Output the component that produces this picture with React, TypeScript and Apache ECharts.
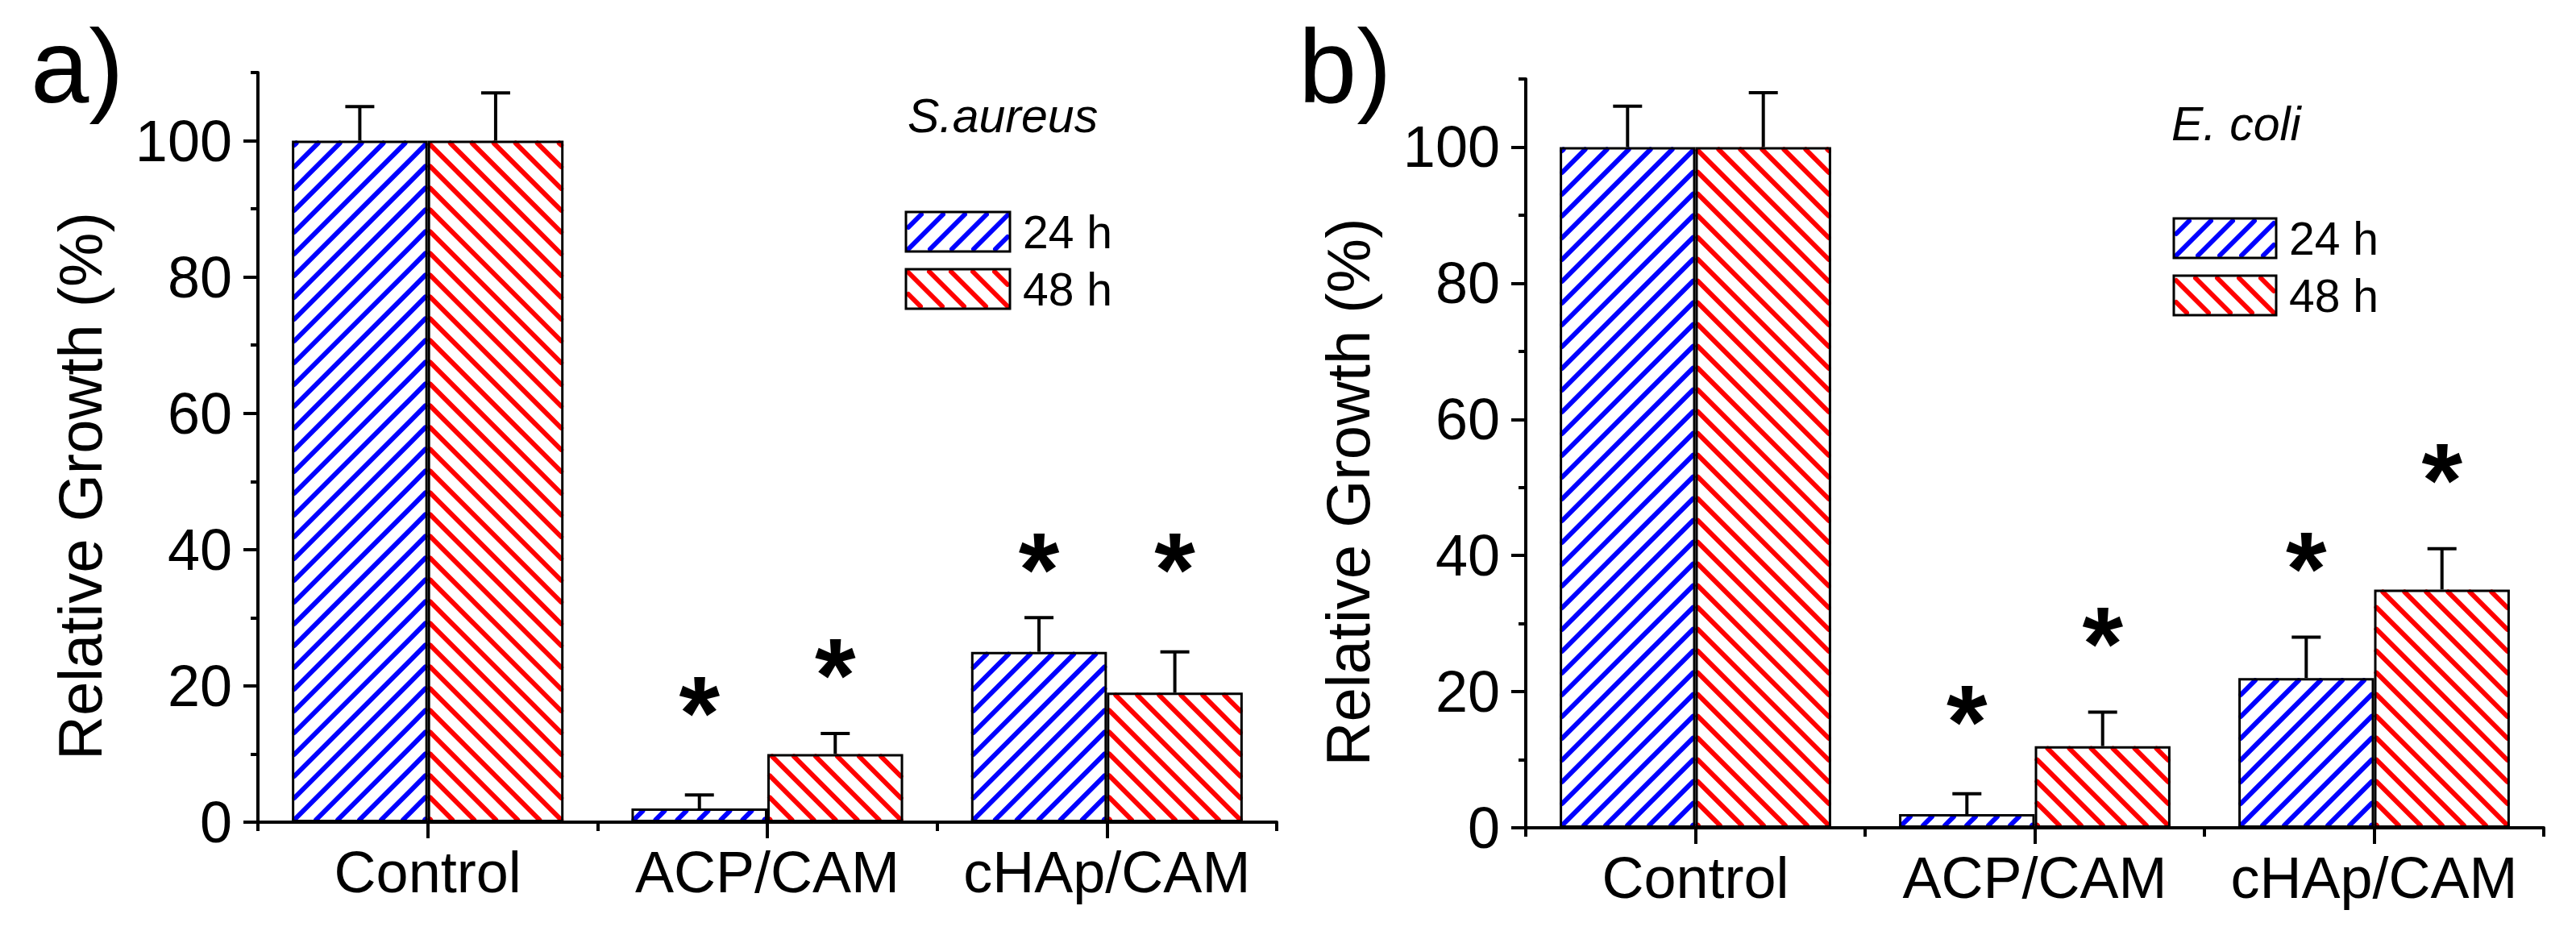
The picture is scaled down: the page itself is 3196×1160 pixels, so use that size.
import React, { useEffect, useRef } from 'react';
import * as echarts from 'echarts';

// ---------- data ----------
const categories = ['Control', 'ACP/CAM', 'cHAp/CAM'];
const seriesNames = ['24 h', '48 h'];
const yTickValues = [0, 20, 40, 60, 80, 100];
const yMinorTickValues = [10, 30, 50, 70, 90, 110];
const panelLabels = ['a)', 'b)'];
const organisms = ['S.aureus', 'E. coli'];
const yAxisTitle = 'Relative Growth (%)';

// panel a) S.aureus
const aureus24 = [100, 2, 25];
const aureus24Err = [5, 2, 5];
const aureus48 = [100, 10, 19];
const aureus48Err = [7, 3, 6];
const aureus24Star = [null, 18, 39];
const aureus48Star = [null, 23.5, 39];

// panel b) E. coli
const coli24 = [100, 2, 22];
const coli24Err = [6, 3, 6];
const coli48 = [100, 12, 35];
const coli48Err = [8, 5, 6];
const coli24Star = [null, 17.5, 40];
const coli48Star = [null, 29, 53];

// ---------- styling ----------
const FONT = "'Liberation Sans', Arial, sans-serif";
const BLUE = '#0000ff';
const RED = '#ff0000';
const STAR_SIZE = 130;
const HATCH_STEP = 27;
const HATCH_WIDTH = 6;
const HATCH_INSET = 3;

// segments of 45° hatch lines clipped to a rectangle; dir 1 = "/", -1 = "\"
function hatchSegments(x0: number, y0: number, x1: number, y1: number, dir: number) {
  const segs: number[][] = [];
  if (x1 <= x0 || y1 <= y0) return segs;
  if (dir > 0) {
    const k0 = x0 + y1;
    const nMin = Math.ceil((x0 + y0 - k0) / HATCH_STEP);
    const nMax = Math.floor((x1 + y1 - k0) / HATCH_STEP);
    for (let n = nMin; n <= nMax; n++) {
      const k = k0 + n * HATCH_STEP;
      const ya = Math.max(y0, k - x1);
      const yb = Math.min(y1, k - x0);
      if (yb >= ya) segs.push([k - ya, ya, k - yb, yb]);
    }
  } else {
    const k0 = x1 - y1;
    const nMin = Math.ceil((x0 - y1 - k0) / HATCH_STEP);
    const nMax = Math.floor((x1 - y0 - k0) / HATCH_STEP);
    for (let n = nMin; n <= nMax; n++) {
      const k = k0 + n * HATCH_STEP;
      const ya = Math.max(y0, x0 - k);
      const yb = Math.min(y1, x1 - k);
      if (yb >= ya) segs.push([k + ya, ya, k + yb, yb]);
    }
  }
  return segs;
}

function hatchLines(x0: number, y0: number, x1: number, y1: number, dir: number, color: string) {
  return hatchSegments(x0 + HATCH_INSET, y0 + HATCH_INSET, x1 - HATCH_INSET, y1 - HATCH_INSET, dir).map((s) => ({
    type: 'line',
    shape: { x1: s[0], y1: s[1], x2: s[2], y2: s[3] },
    style: { stroke: color, lineWidth: HATCH_WIDTH, lineCap: 'round' },
    silent: true,
  }));
}

const makeHatchRender = (side: number, color: string, dir: number) => (params: any, api: any) => {
  const idx = api.value(0);
  const v = api.value(1);
  const band = api.size([1, 0])[0];
  const bw = band * 0.4;
  const c0 = api.coord([idx, 0]);
  const c1 = api.coord([idx, v]);
  const left = side < 0 ? c0[0] - bw : c0[0];
  return { type: 'group', children: hatchLines(left, c1[1], left + bw, c0[1], dir, color) };
};

const makeErrRender = (side: number) => (params: any, api: any) => {
  const idx = api.value(0);
  const v = api.value(1);
  const e = api.value(2);
  const s = api.value(3);
  const band = api.size([1, 0])[0];
  const base = api.coord([idx, v]);
  const x = base[0] + side * band * 0.2;
  const yTop = api.coord([idx, v + e])[1];
  const children: any[] = [
    { type: 'line', shape: { x1: x, y1: base[1], x2: x, y2: yTop }, style: { stroke: '#000', lineWidth: 4 } },
    { type: 'line', shape: { x1: x - 18, y1: yTop, x2: x + 18, y2: yTop }, style: { stroke: '#000', lineWidth: 4 } },
  ];
  if (Number.isFinite(s)) {
    const ys = api.coord([idx, s])[1];
    children.push({
      type: 'text',
      x,
      y: ys + STAR_SIZE * 0.13,
      style: {
        text: '*',
        fontSize: STAR_SIZE,
        fontWeight: 'bold',
        fontFamily: FONT,
        fill: '#000',
        align: 'center',
        verticalAlign: 'middle',
      },
    });
  }
  return { type: 'group', children };
};

const errData = (vals: number[], errs: number[], stars: (number | null)[]) =>
  vals.map((v, i) => [i, v, errs[i], stars[i] == null ? NaN : stars[i]]);

const axisLineStyle = { color: '#000', width: 4 };

function buildAxes(gridIndex: number, w: number, h: number) {
  const xAxes = [
    {
      type: 'category',
      gridIndex,
      data: categories,
      position: 'bottom',
      axisLine: { show: true, lineStyle: axisLineStyle },
      axisTick: { show: true, alignWithLabel: true, length: 20, lineStyle: axisLineStyle },
      axisLabel: { interval: 0, fontSize: 72, color: '#000', fontFamily: FONT, margin: 26 },
      splitLine: { show: false },
    },
    {
      type: 'category',
      gridIndex,
      data: categories,
      position: 'top',
      offset: -h,
      axisLine: { show: false },
      axisTick: { show: true, inside: true, length: 11, lineStyle: axisLineStyle },
      axisLabel: { show: false },
      splitLine: { show: false },
    },
  ];
  const yAxes = [
    {
      type: 'value',
      gridIndex,
      min: 0,
      max: 110,
      interval: 20,
      position: 'left',
      axisLine: { show: true, lineStyle: axisLineStyle },
      axisTick: { show: true, length: 18, customValues: yTickValues, lineStyle: axisLineStyle },
      axisLabel: { customValues: yTickValues, fontSize: 72, color: '#000', fontFamily: FONT, margin: 32 },
      splitLine: { show: false },
      name: yAxisTitle,
      nameLocation: 'middle',
      nameRotate: 90,
      nameGap: 183,
      nameTextStyle: { fontSize: 76, color: '#000', fontFamily: FONT, padding: [0, 96, 0, 0] },
    },
    {
      type: 'value',
      gridIndex,
      min: 0,
      max: 110,
      interval: 10,
      position: 'right',
      offset: -w,
      axisLine: { show: false },
      axisTick: { show: true, inside: true, length: 9, customValues: yMinorTickValues, lineStyle: axisLineStyle },
      axisLabel: { show: false },
      splitLine: { show: false },
    },
  ];
  return { xAxes, yAxes };
}

const barStyle = { color: 'rgba(0,0,0,0)', borderColor: '#000', borderWidth: 3 };

function buildSeries(xi: number, yi: number, v24: number[], e24: number[], s24: any[], v48: number[], e48: number[], s48: any[]) {
  const pairs = (vals: number[]) => vals.map((v, i) => [i, v]);
  return [
    { type: 'custom', xAxisIndex: xi, yAxisIndex: yi, data: pairs(v24), encode: { x: 0, y: 1 }, renderItem: makeHatchRender(-1, BLUE, 1), silent: true, z: 1 },
    { type: 'custom', xAxisIndex: xi, yAxisIndex: yi, data: pairs(v48), encode: { x: 0, y: 1 }, renderItem: makeHatchRender(1, RED, -1), silent: true, z: 1 },
    { type: 'bar', name: seriesNames[0], xAxisIndex: xi, yAxisIndex: yi, data: v24, barWidth: '40%', barGap: '0%', itemStyle: barStyle, silent: true, z: 3 },
    { type: 'bar', name: seriesNames[1], xAxisIndex: xi, yAxisIndex: yi, data: v48, barWidth: '40%', barGap: '0%', itemStyle: barStyle, silent: true, z: 3 },
    { type: 'custom', xAxisIndex: xi, yAxisIndex: yi, data: errData(v24, e24, s24), encode: { x: 0, y: 1 }, renderItem: makeErrRender(-1), silent: true, z: 5 },
    { type: 'custom', xAxisIndex: xi, yAxisIndex: yi, data: errData(v48, e48, s48), encode: { x: 0, y: 1 }, renderItem: makeErrRender(1), silent: true, z: 5 },
  ];
}

function legendGraphic(left: number, top: number, w: number, h: number, pitch: number) {
  const children: any[] = [];
  const specs = [
    { name: seriesNames[0], color: BLUE, dir: 1 },
    { name: seriesNames[1], color: RED, dir: -1 },
  ];
  specs.forEach((s, i) => {
    const y = top + i * pitch;
    children.push(...hatchLines(left, y, left + w, y + h, s.dir, s.color));
    children.push({
      type: 'rect',
      shape: { x: left, y, width: w, height: h },
      style: { fill: 'none', stroke: '#000', lineWidth: 3 },
      silent: true,
    });
    children.push({
      type: 'text',
      x: left + w + 16,
      y: y + h / 2,
      style: { text: s.name, fontSize: 57, fontFamily: FONT, fill: '#000', align: 'left', verticalAlign: 'middle' },
      silent: true,
    });
  });
  return { type: 'group', children };
}

export default function App() {
  const ref = useRef<HTMLDivElement>(null);
  useEffect(() => {
    if (!ref.current) return;
    const chart = echarts.init(ref.current, null, { renderer: 'svg' });
    const gA = { left: 320, top: 90, width: 1264, height: 930 };
    const gB = { left: 1893, top: 98, width: 1263, height: 929 };
    const a = buildAxes(0, gA.width, gA.height);
    const b = buildAxes(1, gB.width, gB.height);
    const titleStyle = (size: number, italic = false) => ({
      fontSize: size,
      fontWeight: 'normal',
      fontStyle: italic ? 'italic' : 'normal',
      fontFamily: FONT,
      color: '#000',
    });
    chart.setOption({
      animation: false,
      backgroundColor: '#ffffff',
      title: [
        { text: panelLabels[0], left: 38, top: 17, padding: 0, textStyle: titleStyle(130) },
        { text: panelLabels[1], left: 1611, top: 17, padding: 0, textStyle: titleStyle(130) },
        { text: organisms[0], left: 1126, top: 114, padding: 0, textStyle: titleStyle(59, true) },
        { text: organisms[1], left: 2694, top: 124, padding: 0, textStyle: titleStyle(59, true) },
      ],
      graphic: [legendGraphic(1124, 263, 129, 49, 71), legendGraphic(2697, 271, 127, 49, 71)],
      grid: [
        { ...gA, containLabel: false },
        { ...gB, containLabel: false },
      ],
      xAxis: [...a.xAxes, ...b.xAxes],
      yAxis: [...a.yAxes, ...b.yAxes],
      series: [
        ...buildSeries(0, 0, aureus24, aureus24Err, aureus24Star, aureus48, aureus48Err, aureus48Star),
        ...buildSeries(2, 2, coli24, coli24Err, coli24Star, coli48, coli48Err, coli48Star),
      ],
    });
    return () => chart.dispose();
  }, []);
  return (
    <div
      ref={ref}
      style={{ position: 'absolute', left: 0, top: 0, width: 3196, height: 1160, background: '#fff' }}
    />
  );
}
